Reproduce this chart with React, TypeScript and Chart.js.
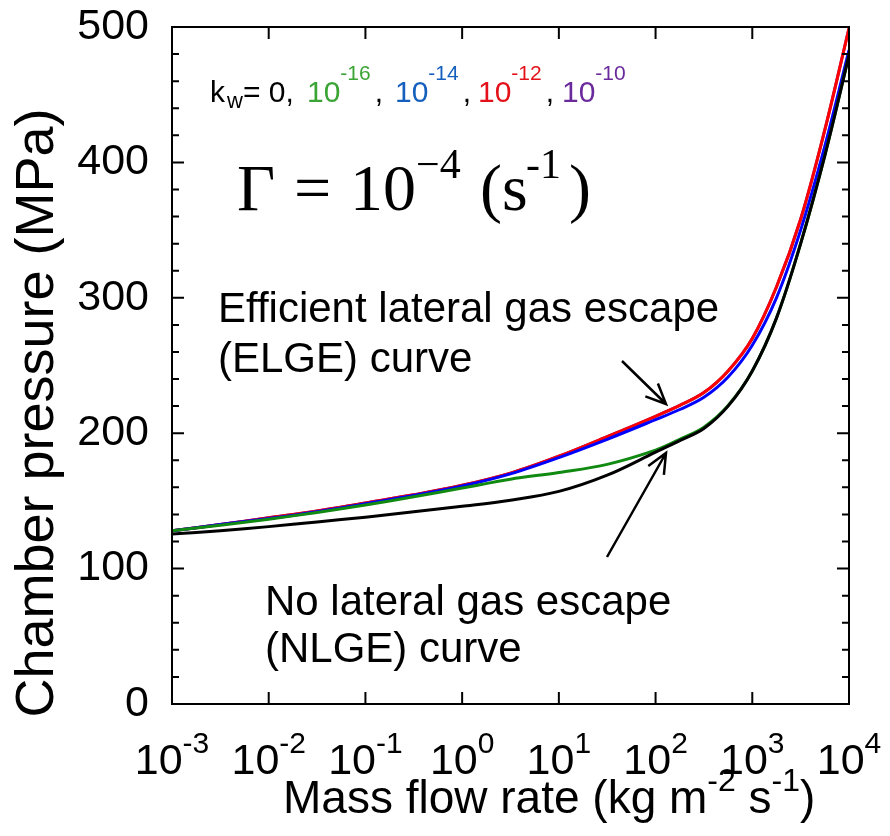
import React, { useEffect, useRef } from "react";
import { Chart, registerables } from "chart.js";

Chart.register(...registerables);

// Mass flow rate (kg m^-2 s^-1), log-spaced sample positions
const massFlow = [
  1e-3, 3.16e-3, 1e-2, 3.16e-2, 0.1, 0.316, 1, 3.16, 10, 31.6, 100, 178, 316, 562,
  1000, 1778, 3162, 5623, 10000,
];
// Chamber pressure (MPa) for each k_w
const pKw0 = [125.5, 128, 131, 134.5, 138, 142, 146, 150.5, 157, 169, 186, 194.5, 203.5, 220, 246, 285, 340, 405, 479];
const pKw16 = [128, 132, 136.5, 141.5, 147, 153, 159.5, 166, 171, 177, 187.5, 195.5, 204.5, 220.5, 246, 285, 340, 405, 479];
const pKw14 = [128, 132.5, 137, 142, 148, 154, 161, 170, 182, 195.5, 210, 217.5, 226.5, 241.5, 265, 300, 350, 412, 483];
const pKw12 = [128, 132.5, 137.5, 142.5, 148.5, 154.5, 161.5, 170.5, 183, 197.5, 212.5, 220.5, 230, 246, 270, 308, 358, 424, 499];
const pKw10 = [128, 132.5, 137.5, 142.5, 148.5, 154.5, 161.5, 170.5, 183, 197.5, 212.5, 220.5, 230, 246, 270, 308, 358, 424, 499];

const yTicks = [0, 100, 200, 300, 400, 500];
const xTickExponents = ["-3", "-2", "-1", "0", "1", "2", "3", "4"];

const SANS = '"Liberation Sans", Arial, sans-serif';
const SERIF = '"Liberation Serif", "Times New Roman", serif';

type Piece = { text: string; size: number; color?: string; dy?: number; family?: string };

function pieceWidth(ctx: CanvasRenderingContext2D, pieces: Piece[]) {
  let w = 0;
  for (const p of pieces) {
    ctx.font = `${p.size}px ${p.family ?? SANS}`;
    w += ctx.measureText(p.text).width;
  }
  return w;
}

function drawRich(ctx: CanvasRenderingContext2D, x: number, y: number, pieces: Piece[]) {
  let cx = x;
  for (const p of pieces) {
    ctx.font = `${p.size}px ${p.family ?? SANS}`;
    ctx.fillStyle = p.color ?? "#000";
    ctx.fillText(p.text, cx, y + (p.dy ?? 0));
    cx += ctx.measureText(p.text).width;
  }
  return cx;
}

function arrow(ctx: CanvasRenderingContext2D, x1: number, y1: number, x2: number, y2: number) {
  const a = Math.atan2(y2 - y1, x2 - x1);
  const h = 22;
  const s = 0.42;
  ctx.beginPath();
  ctx.moveTo(x1, y1);
  ctx.lineTo(x2, y2);
  ctx.moveTo(x2 - h * Math.cos(a - s), y2 - h * Math.sin(a - s));
  ctx.lineTo(x2, y2);
  ctx.lineTo(x2 - h * Math.cos(a + s), y2 - h * Math.sin(a + s));
  ctx.stroke();
}

const decorPlugin = {
  id: "decor",
  afterDraw(chart: any) {
    const { ctx, chartArea, scales } = chart;
    const { left, right, top, bottom } = chartArea;
    const xs = scales.x;
    const ys = scales.y;
    ctx.save();
    ctx.strokeStyle = "#000";
    ctx.lineWidth = 2;
    ctx.lineCap = "butt";
    ctx.strokeRect(left, top, right - left, bottom - top);

    // y ticks (major + 4 minor) inward on both sides
    ctx.beginPath();
    for (let i = 0; i < yTicks.length; i++) {
      const py = ys.getPixelForValue(yTicks[i]);
      ctx.moveTo(left, py);
      ctx.lineTo(left + 12, py);
      ctx.moveTo(right, py);
      ctx.lineTo(right - 12, py);
      if (i < yTicks.length - 1) {
        for (let k = 1; k < 5; k++) {
          const v = yTicks[i] + ((yTicks[i + 1] - yTicks[i]) * k) / 5;
          const pm = ys.getPixelForValue(v);
          ctx.moveTo(left, pm);
          ctx.lineTo(left + 7, pm);
          ctx.moveTo(right, pm);
          ctx.lineTo(right - 7, pm);
        }
      }
    }
    // x ticks inward top and bottom
    for (const e of xTickExponents) {
      const px = xs.getPixelForValue(Math.pow(10, Number(e)));
      ctx.moveTo(px, bottom);
      ctx.lineTo(px, bottom - 12);
      ctx.moveTo(px, top);
      ctx.lineTo(px, top + 12);
    }
    ctx.stroke();

    // x tick labels 10^n
    ctx.textBaseline = "alphabetic";
    ctx.textAlign = "left";
    for (const e of xTickExponents) {
      const px = xs.getPixelForValue(Math.pow(10, Number(e)));
      const pieces: Piece[] = [
        { text: "10", size: 43 },
        { text: e, size: 30, dy: -21 },
      ];
      const w = pieceWidth(ctx, pieces);
      drawRich(ctx, px - w / 2, 774, pieces);
    }

    // x axis title
    const xt: Piece[] = [
      { text: "Mass flow rate (kg m", size: 46 },
      { text: "-2", size: 32, dy: -22 },
      { text: " s", size: 46 },
      { text: "-1", size: 32, dy: -22 },
      { text: ")", size: 46 },
    ];
    drawRich(ctx, 283, 813, xt);

    // y axis title
    ctx.save();
    ctx.translate(53, 413);
    ctx.rotate(-Math.PI / 2);
    ctx.font = `54px ${SANS}`;
    ctx.fillStyle = "#000";
    ctx.textAlign = "center";
    ctx.fillText("Chamber pressure (MPa)", 0, 0);
    ctx.restore();

    // legend text
    ctx.textAlign = "left";
    const base = 102;
    drawRich(ctx, 210, base, [{ text: "k", size: 30 }]);
    drawRich(ctx, 227, base + 6, [{ text: "w", size: 22 }]);
    drawRich(ctx, 243, base, [{ text: "= 0,", size: 30 }]);
    const groups = [
      { x: 307, sup: "-16", color: "#3aa435", comma: true },
      { x: 395, sup: "-14", color: "#1560bd", comma: true },
      { x: 478, sup: "-12", color: "#e3121a", comma: true },
      { x: 562, sup: "-10", color: "#6a2a9c", comma: false },
    ];
    for (const g of groups) {
      const end = drawRich(ctx, g.x, base, [
        { text: "10", size: 30, color: g.color },
        { text: g.sup, size: 21, color: g.color, dy: -22 },
      ]);
      if (g.comma) drawRich(ctx, end + 4, base, [{ text: ",", size: 30 }]);
    }

    // Gamma equation
    drawRich(ctx, 237, 210, [{ text: "\u0393", size: 66, family: SERIF }]);
    drawRich(ctx, 294, 210, [{ text: "=", size: 66, family: SERIF }]);
    drawRich(ctx, 350, 210, [{ text: "10", size: 66, family: SERIF }]);
    drawRich(ctx, 416, 178, [{ text: "\u22124", size: 42, family: SERIF }]);
    drawRich(ctx, 480, 210, [{ text: "(s", size: 66, family: SERIF }]);
    drawRich(ctx, 526, 178, [{ text: "-1", size: 42, family: SERIF }]);
    drawRich(ctx, 569, 210, [{ text: ")", size: 66, family: SERIF }]);

    // curve labels
    drawRich(ctx, 218, 322, [{ text: "Efficient lateral gas escape", size: 42 }]);
    drawRich(ctx, 218, 372, [{ text: "(ELGE) curve", size: 42 }]);
    drawRich(ctx, 265, 615, [{ text: "No lateral gas escape", size: 42 }]);
    drawRich(ctx, 265, 662, [{ text: "(NLGE) curve", size: 42 }]);

    // arrows
    ctx.lineWidth = 2.5;
    arrow(ctx, 622, 361, 666, 404);
    arrow(ctx, 607, 557, 666, 453);
    ctx.restore();
  },
};

function series(values: number[]) {
  return massFlow.map((x, i) => ({ x, y: values[i] }));
}

export default function App() {
  const ref = useRef<HTMLCanvasElement | null>(null);
  useEffect(() => {
    if (!ref.current) return;
    const common = {
      borderWidth: 3,
      pointRadius: 0,
      fill: false,
      tension: 0.35,
    };
    const chart = new Chart(ref.current, {
      type: "line",
      data: {
        datasets: [
          { ...common, label: "k_w=0", data: series(pKw0), borderColor: "#000000", order: 1 },
          { ...common, label: "k_w=1e-16", data: series(pKw16), borderColor: "#118a11", order: 2 },
          { ...common, label: "k_w=1e-14", data: series(pKw14), borderColor: "#0000ff", order: 3 },
          { ...common, label: "k_w=1e-12", data: series(pKw12), borderColor: "#ff0000", order: 4 },
          { ...common, label: "k_w=1e-10", data: series(pKw10), borderColor: "#7030a0", order: 5 },
        ],
      },
      options: {
        animation: false,
        responsive: false,
        layout: { padding: { top: 27, right: 41, left: 0, bottom: 0 } },
        plugins: { legend: { display: false }, tooltip: { enabled: false } },
        scales: {
          x: {
            type: "logarithmic",
            min: 1e-3,
            max: 1e4,
            grid: { display: false },
            border: { display: false },
            ticks: { display: false },
            afterFit: (s: any) => {
              s.height = 132;
              s.paddingLeft = 0;
              s.paddingRight = 0;
            },
          },
          y: {
            type: "linear",
            min: 0,
            max: 500,
            grid: { display: false },
            border: { display: false },
            ticks: {
              stepSize: 100,
              padding: 15,
              color: "#000",
              font: { family: SANS, size: 43 },
            },
            afterFit: (s: any) => {
              s.width = 172;
              s.paddingTop = 0;
              s.paddingBottom = 0;
            },
          },
        },
      },
      plugins: [decorPlugin],
    });
    return () => chart.destroy();
  }, []);
  return (
    <div style={{ position: "fixed", left: 0, top: 0, width: 890, height: 836, background: "#fff" }}>
      <canvas ref={ref} width={890} height={836} style={{ display: "block" }} />
    </div>
  );
}
